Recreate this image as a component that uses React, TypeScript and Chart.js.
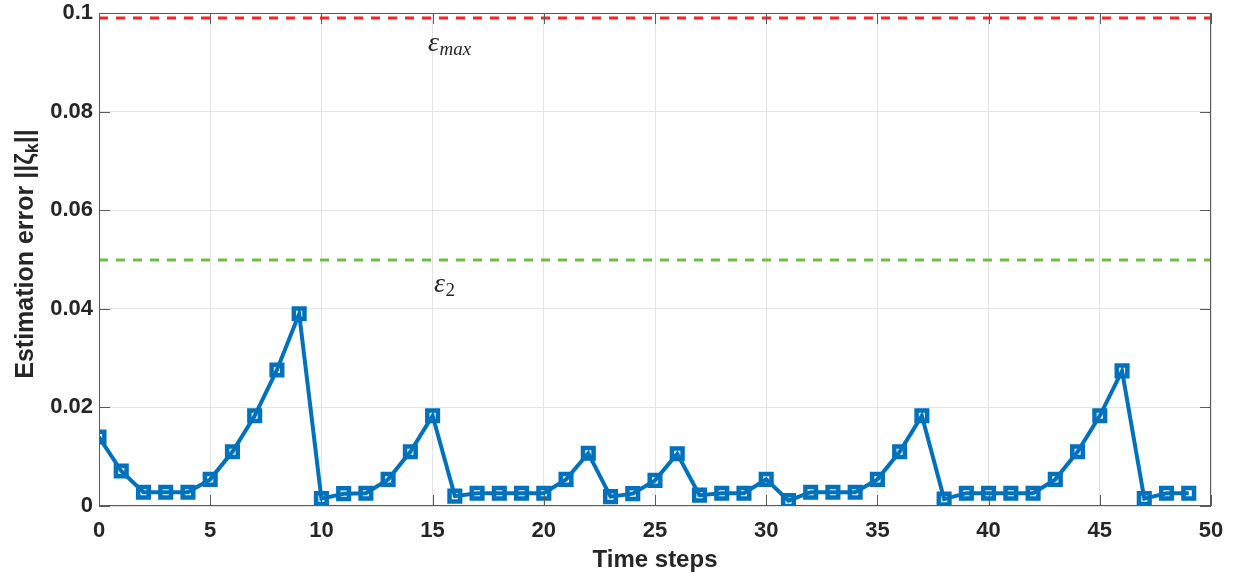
import React, { useEffect, useRef } from "react";
import { Chart, registerables } from "chart.js";

Chart.register(...registerables);

const timeSteps = [
  0, 1, 2, 3, 4, 5, 6, 7, 8, 9, 10, 11, 12, 13, 14, 15, 16, 17, 18, 19, 20, 21, 22, 23, 24,
  25, 26, 27, 28, 29, 30, 31, 32, 33, 34, 35, 36, 37, 38, 39, 40, 41, 42, 43, 44, 45, 46, 47, 48, 49,
];

const estimationError = [
  0.014, 0.0071, 0.0028, 0.0028, 0.0028, 0.0054, 0.011, 0.0183, 0.0276, 0.039,
  0.0015, 0.0025, 0.0026, 0.0054, 0.011, 0.0183, 0.002, 0.0026, 0.0026, 0.0026,
  0.0026, 0.0054, 0.0107, 0.0019, 0.0025, 0.0052, 0.0106, 0.0022, 0.0026, 0.0026,
  0.0054, 0.0011, 0.0028, 0.0028, 0.0028, 0.0054, 0.011, 0.0183, 0.0014, 0.0026,
  0.0026, 0.0026, 0.0026, 0.0054, 0.011, 0.0183, 0.0274, 0.0015, 0.0026, 0.0026,
];

const epsMax = 0.099;
const eps2 = 0.0499;
const thresholdX = [0, 50];

const xTickLabels = ["0", "5", "10", "15", "20", "25", "30", "35", "40", "45", "50"];
const yTickLabels = ["0", "0.02", "0.04", "0.06", "0.08", "0.1"];

const epsMaxLabelPos = { x: 14.79, y: 0.0923 };
const eps2LabelPos = { x: 15.06, y: 0.0435 };

const FONT = "'Liberation Sans', Arial, Helvetica, sans-serif";
const SERIF = "'Liberation Serif', 'DejaVu Serif', serif";
const TEXT = "#262626";

const decorPlugin = {
  id: "decor",
  afterDraw(chart: any) {
    const { ctx, chartArea } = chart;
    const { left, right, top, bottom } = chartArea;
    const xs = chart.scales.x;
    const ys = chart.scales.y;
    ctx.save();
    // box
    ctx.strokeStyle = "#5a5a5a";
    ctx.lineWidth = 1;
    ctx.strokeRect(left + 0.5, top + 0.5, right - left - 1, bottom - top - 1);
    // inward ticks
    const tl = 11;
    ctx.beginPath();
    for (let i = 0; i < xTickLabels.length; i++) {
      const px = Math.round(xs.getPixelForValue(Number(xTickLabels[i]))) + 0.5;
      ctx.moveTo(px, bottom);
      ctx.lineTo(px, bottom - tl);
      ctx.moveTo(px, top);
      ctx.lineTo(px, top + tl);
    }
    for (let i = 0; i < yTickLabels.length; i++) {
      const py = Math.round(ys.getPixelForValue(Number(yTickLabels[i]))) + 0.5;
      ctx.moveTo(left, py);
      ctx.lineTo(left + tl, py);
      ctx.moveTo(right, py);
      ctx.lineTo(right - tl, py);
    }
    ctx.stroke();

    // x title
    ctx.fillStyle = TEXT;
    ctx.font = `bold 24px ${FONT}`;
    ctx.textAlign = "center";
    ctx.textBaseline = "middle";
    ctx.fillText("Time steps", (left + right) / 2, 560);

    // y title with subscript
    ctx.save();
    ctx.translate(24, 254);
    ctx.rotate(-Math.PI / 2);
    ctx.textAlign = "left";
    ctx.textBaseline = "alphabetic";
    const part1 = "Estimation error ||ζ";
    const sub = "k";
    const part2 = "||";
    ctx.font = `bold 25px ${FONT}`;
    const w1 = ctx.measureText(part1).width;
    const w3 = ctx.measureText(part2).width;
    ctx.font = `bold 18px ${FONT}`;
    const w2 = ctx.measureText(sub).width;
    const total = w1 + w2 + w3;
    let cx = -total / 2;
    const base = 9;
    ctx.font = `bold 25px ${FONT}`;
    ctx.fillText(part1, cx, base);
    cx += w1;
    ctx.font = `bold 18px ${FONT}`;
    ctx.fillText(sub, cx, base + 5);
    cx += w2;
    ctx.font = `bold 25px ${FONT}`;
    ctx.fillText(part2, cx, base);
    ctx.restore();

    // epsilon labels
    const drawEps = (pos: { x: number; y: number }, subText: string) => {
      const px = xs.getPixelForValue(pos.x);
      const py = ys.getPixelForValue(pos.y);
      ctx.textAlign = "left";
      ctx.textBaseline = "alphabetic";
      ctx.font = `italic 28px ${SERIF}`;
      ctx.fillStyle = TEXT;
      ctx.fillText("ε", px, py);
      const we = ctx.measureText("ε").width;
      ctx.font = (subText === "2" ? "" : "italic ") + `19px ${SERIF}`;
      ctx.fillText(subText, px + we + 0.5, py + 4);
    };
    drawEps(epsMaxLabelPos, "max");
    drawEps(eps2LabelPos, "2");
    ctx.restore();
  },
};

export default function App() {
  const canvasRef = useRef<HTMLCanvasElement | null>(null);

  useEffect(() => {
    if (!canvasRef.current) return;
    const chart = new Chart(canvasRef.current, {
      type: "line",
      data: {
        datasets: [
          {
            label: "epsMax",
            data: thresholdX.map((x) => ({ x, y: epsMax })),
            borderColor: "#ff2323",
            borderWidth: 3,
            borderDash: [9, 8],
            pointRadius: 0,
            fill: false,
          },
          {
            label: "eps2",
            data: thresholdX.map((x) => ({ x, y: eps2 })),
            borderColor: "#6cbf44",
            borderWidth: 3,
            borderDash: [9, 8],
            pointRadius: 0,
            fill: false,
          },
          {
            label: "error",
            data: timeSteps.map((t, i) => ({ x: t, y: estimationError[i] })),
            borderColor: "#0072BD",
            borderWidth: 4,
            pointStyle: "rect",
            pointRadius: 7.5,
            pointBorderWidth: 4.5,
            pointBackgroundColor: "rgba(0,0,0,0)",
            pointBorderColor: "#0072BD",
            fill: false,
          },
        ],
      },
      options: {
        responsive: false,
        animation: false,
        layout: { autoPadding: false, padding: { left: 0, right: 28, top: 13, bottom: 0 } },
        plugins: {
          legend: { display: false },
          tooltip: { enabled: false },
          title: { display: false },
        },
        scales: {
          x: {
            type: "linear",
            min: 0,
            max: 50,
            afterFit: (scale: any) => {
              scale.height = 71;
            },
            afterBuildTicks: (scale: any) => {
              scale.ticks = xTickLabels.map((l) => ({ value: Number(l) }));
            },
            ticks: {
              padding: 12,
              color: TEXT,
              font: { family: FONT, size: 22, weight: "bold" },
              callback: (v: any) => xTickLabels[Math.round(Number(v) / 5)],
              maxRotation: 0,
            },
            grid: { color: "#e3e3e3", lineWidth: 1, drawTicks: false },
            border: { display: false },
          },
          y: {
            type: "linear",
            min: 0,
            max: 0.1,
            afterFit: (scale: any) => {
              scale.width = 99;
            },
            afterBuildTicks: (scale: any) => {
              scale.ticks = yTickLabels.map((l) => ({ value: Number(l) }));
            },
            ticks: {
              padding: 6,
              color: TEXT,
              font: { family: FONT, size: 22, weight: "bold", lineHeight: 0.5 },
              callback: (v: any) => yTickLabels[Math.round(Number(v) / 0.02)],
            },
            grid: { color: "#e3e3e3", lineWidth: 1, drawTicks: false },
            border: { display: false },
          },
        },
      },
      plugins: [decorPlugin],
    } as any);
    return () => chart.destroy();
  }, []);

  return (
    <div style={{ position: "absolute", left: 0, top: 0, width: 1239, height: 577, background: "#fff" }}>
      <canvas ref={canvasRef} width={1239} height={577} />
    </div>
  );
}
